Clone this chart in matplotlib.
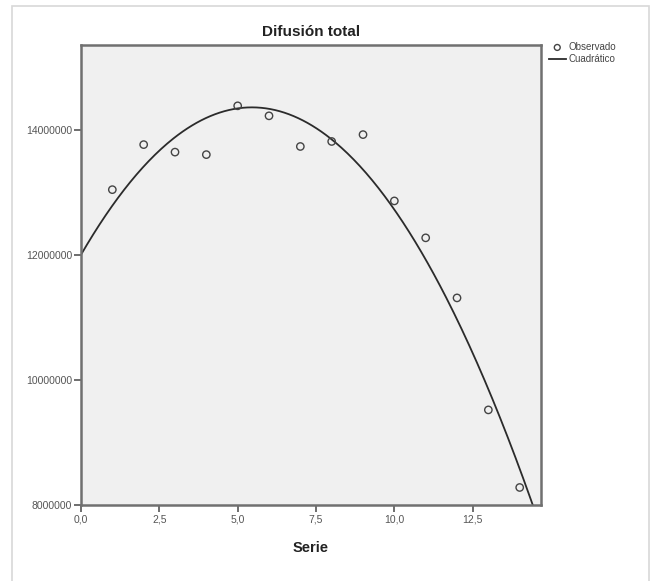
import numpy as np
import matplotlib.pyplot as plt
from matplotlib.patches import Rectangle
from matplotlib.ticker import FuncFormatter

plt.rcParams['font.family'] = ['Liberation Sans', 'DejaVu Sans']

serie = np.arange(1, 15)
observado = [13.04e6, 13.76e6, 13.64e6, 13.60e6, 14.38e6, 14.22e6, 13.73e6,
             13.81e6, 13.92e6, 12.86e6, 12.27e6, 11.31e6, 9.52e6, 8.28e6]

x_ticks = [0, 2.5, 5, 7.5, 10, 12.5]
y_ticks = [8000000, 10000000, 12000000, 14000000]

# Quadratic fit of the observed series
coef = np.polyfit(serie, observado, 2)
x_fit = np.linspace(0, 14.7, 300)
y_fit = np.polyval(coef, x_fit)

fig = plt.figure(figsize=(6.56, 5.81), dpi=100)
# light frame around the picture (bottom edge runs off the image)
fig.patches.append(Rectangle((11.5 / 656, -5 / 581), 637.5 / 656, 580 / 581,
                             transform=fig.transFigure, fill=False,
                             edgecolor='#d8d8d8', linewidth=1.2))

ax = fig.add_axes([81 / 656, 76 / 581, 460 / 656, 460.5 / 581])
ax.set_facecolor('#f0f0f0')

ax.plot(x_fit, y_fit, color='#2b2b2b', linewidth=1.3, label='Cuadrático')
ax.scatter(serie, observado, s=28, facecolors='none', edgecolors='#444444',
           linewidths=1.0, label='Observado', zorder=3)

ax.set_xlim(0, 14.68)
ax.set_ylim(8000000, 15360000)
ax.set_xticks(x_ticks)
ax.set_yticks(y_ticks)
ax.xaxis.set_major_formatter(FuncFormatter(lambda v, p: f'{v:.1f}'.replace('.', ',')))
ax.yaxis.set_major_formatter(FuncFormatter(lambda v, p: f'{int(v)}'))
ax.tick_params(axis='both', direction='out', length=5, width=1.2,
               color='#555555', labelsize=7.5, labelcolor='#555555', pad=1.5)

for side in ax.spines.values():
    side.set_color('#707070')
    side.set_linewidth(1.8)

ax.set_xlabel('Serie', fontsize=10.5, fontweight='bold', color='#222222', labelpad=12)
ax.set_title('Difusión total', fontsize=11, fontweight='bold', color='#222222', pad=6)

handles, labels = ax.get_legend_handles_labels()
fig.legend([handles[1], handles[0]], [labels[1], labels[0]],
           loc='upper left', bbox_to_anchor=(549 / 656, 1 - 42 / 581),
           frameon=False, fontsize=7, handlelength=1.7, handletextpad=0.3,
           labelspacing=0.25, borderaxespad=0, borderpad=0, labelcolor='#444444',
           markerscale=0.8)

fig.savefig('out.png', dpi=100)
